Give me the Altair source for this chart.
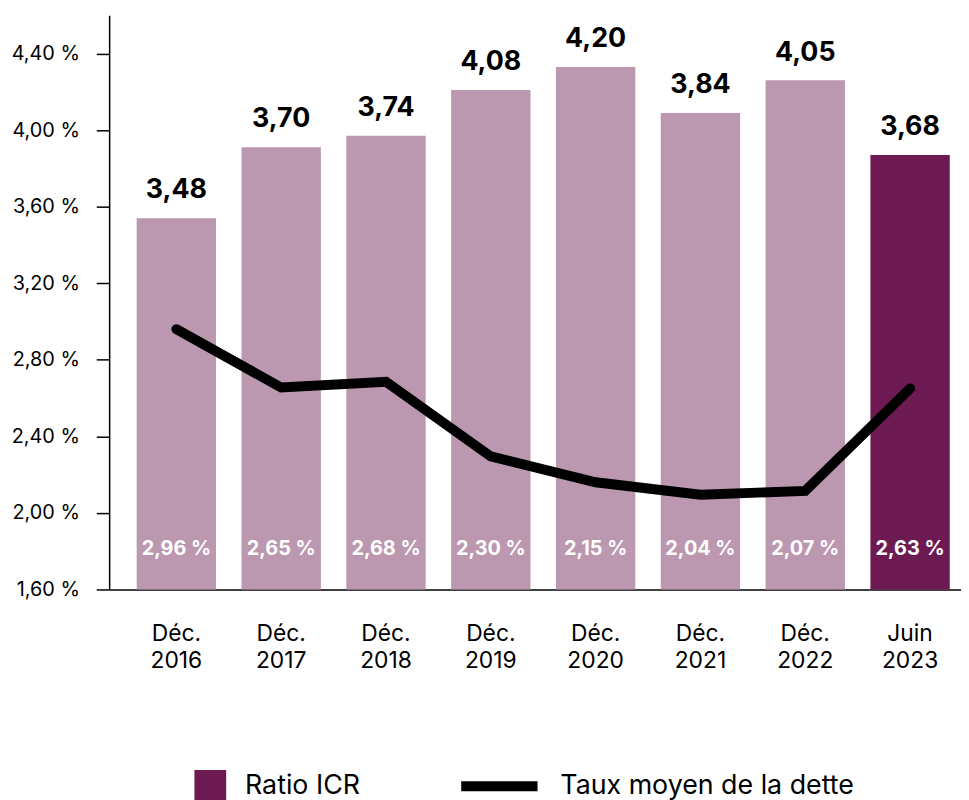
import altair as alt
import pandas as pd

# ---- data ----
periodes = ["Déc. 2016", "Déc. 2017", "Déc. 2018", "Déc. 2019",
            "Déc. 2020", "Déc. 2021", "Déc. 2022", "Juin 2023"]
# printed ICR values (labels above bars)
icr_valeurs = [3.48, 3.70, 3.74, 4.08, 4.20, 3.84, 4.05, 3.68]
# bar heights as drawn on the left axis
icr_hauteurs = [3.54, 3.91, 3.97, 4.21, 4.33, 4.09, 4.26, 3.87]
# printed average debt rate (labels inside bars)
taux_valeurs = [2.96, 2.65, 2.68, 2.30, 2.15, 2.04, 2.07, 2.63]
# line positions as drawn on the left axis
taux_ligne = [2.96, 2.655, 2.685, 2.295, 2.16, 2.095, 2.115, 2.65]
y_ticks = [1.6, 2.0, 2.4, 2.8, 3.2, 3.6, 4.0, 4.4]

DARK = "#6e1a52"
LIGHT = "#bb97b0"
FONT = "Inter"

df = pd.DataFrame({
    "periode": periodes,
    "icr": icr_valeurs,
    "hauteur": icr_hauteurs,
    "taux": taux_valeurs,
    "ligne": taux_ligne,
})

base = alt.Chart(df).transform_calculate(
    serie_bar="datum.periode == 'Juin 2023' ? 'Ratio ICR' : 'Ratio ICR (historique)'",
    serie_line="'Taux moyen de la dette'",
    icr_txt="replace(format(datum.icr, '.2f'), '.', ',')",
    taux_txt="replace(format(datum.taux, '.2f'), '.', ',') + ' %'",
)

x_enc = alt.X(
    "periode:N", sort=periodes,
    scale=alt.Scale(paddingInner=0.243, paddingOuter=0.185, align=0.71),
    axis=alt.Axis(title=None, labelAngle=0, labelExpr="split(datum.label, ' ')",
                  ticks=False, tickSize=0, labelPadding=33, labelFontSize=23,
                  labelLineHeight=28, labelColor="black", labelFont=FONT,
                  domainColor="black", domainWidth=1.5, labelBaseline="top"),
)
y_scale = alt.Scale(domain=[1.6, 4.6], nice=False, zero=False)
y_axis = alt.Axis(values=y_ticks, title=None, grid=False,
                  labelExpr="replace(format(datum.value, '.2f'), '.', ',') + ' %'",
                  tickSize=13, tickColor="black", tickWidth=1.5,
                  domainColor="black", domainWidth=1.5,
                  labelFontSize=20, labelPadding=17, labelColor="black",
                  labelFont=FONT)

bars = base.mark_bar().encode(
    x=x_enc,
    y=alt.Y("hauteur:Q", scale=y_scale, axis=y_axis),
    y2=alt.datum(1.6),
    fill=alt.Fill("serie_bar:N",
                  scale=alt.Scale(domain=["Ratio ICR", "Ratio ICR (historique)"],
                                  range=[DARK, LIGHT]),
                  legend=alt.Legend(values=["Ratio ICR"], title=None, orient="none",
                                    legendX=86, legendY=761, padding=0,
                                    symbolType="square", symbolSize=1024,
                                    symbolStrokeWidth=0, symbolOpacity=1,
                                    labelFontSize=27, labelOffset=19, labelLimit=0,
                                    labelFont=FONT, labelColor="black")),
)

line = base.mark_line(strokeWidth=10, strokeCap="round", strokeJoin="miter").encode(
    x=x_enc,
    y=alt.Y("ligne:Q", scale=y_scale, axis=y_axis),
    stroke=alt.Stroke("serie_line:N", scale=alt.Scale(range=["#000000"]),
                      legend=alt.Legend(title=None, orient="none",
                                        legendX=350, legendY=734, padding=0,
                                        symbolType="stroke", symbolSize=5929,
                                        symbolStrokeWidth=10, labelLimit=0,
                                        labelFontSize=27, labelOffset=18,
                                        labelFont=FONT, labelColor="black")),
)

top_labels = base.mark_text(fontSize=27, fontWeight="bold", font=FONT,
                            color="black", dy=-20, baseline="alphabetic").encode(
    x=x_enc,
    y=alt.Y("hauteur:Q", scale=y_scale, axis=y_axis),
    text="icr_txt:N",
)

inner_labels = base.mark_text(fontSize=20, fontWeight="bold", font=FONT,
                              color="white", dy=-35, baseline="alphabetic").encode(
    x=x_enc,
    y=alt.datum(1.6, scale=y_scale, axis=y_axis),
    text="taux_txt:N",
)

chart = alt.layer(bars, line, top_labels, inner_labels).properties(
    width=859, height=579,
    autosize=alt.AutoSizeParams(type="none"),
    padding={"left": 102, "top": 4, "right": 0, "bottom": 210},
).configure(font=FONT).configure_view(stroke=None)

chart.save("out.html", embed_options={"renderer": "svg", "actions": False})
